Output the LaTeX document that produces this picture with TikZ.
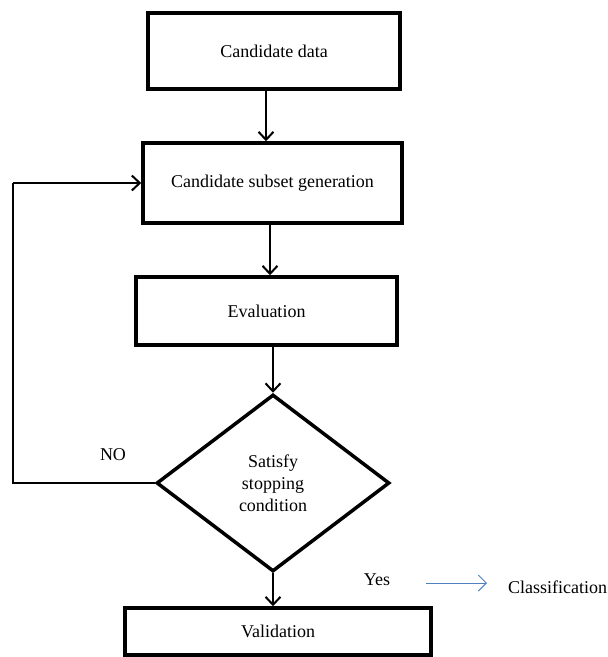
\documentclass[tikz,border=0pt]{standalone}
\usepackage{fontspec}
\setmainfont{Liberation Serif}
\usepackage{tikz}
\usetikzlibrary{shapes.geometric,arrows.meta}

\tikzset{
  block/.style={draw, line width=3.5pt, inner sep=0pt, font=\fontsize{18}{22}\selectfont},
  decision/.style={diamond, draw, line width=3.5pt, inner sep=0pt, align=center,
    minimum width=233pt, minimum height=177pt, font=\fontsize{18}{22}\selectfont},
  txt/.style={inner sep=0pt, font=\fontsize{18}{22}\selectfont},
  edgeline/.style={-{Straight Barb[length=8pt,width=15pt]}, line width=2pt},
  flow/.style={-{Straight Barb[length=8pt,width=16pt]}, line width=1pt,
    draw={rgb,255:red,79;green,129;blue,189}}
}

\begin{document}
\begin{tikzpicture}[x=1pt,y=-1pt]
      \useasboundingbox (0,0) rectangle (608,657);
      % Nodes
      % boxes and decision
      \node[block, minimum width=252pt, minimum height=76pt, xshift=274pt, yshift=-51pt] (Data) {Candidate data};
      \node[block, minimum width=259pt, minimum height=80pt, xshift=272.5pt, yshift=-183pt] (Gen) {Candidate subset generation};
      \node[block, minimum width=261pt, minimum height=68pt, xshift=266.5pt, yshift=-311pt] (Eval) {Evaluation};
      \node[decision, xshift=273pt, yshift=-483pt] (Stop) {Satisfy\\stopping\\condition};
      \node[block, minimum width=306pt, minimum height=47pt, xshift=278pt, yshift=-631.5pt] (Valid) {Validation};
      % labels
      \node[txt, xshift=113pt, yshift=-455pt] (No) {NO};
      \node[txt, xshift=377pt, yshift=-580pt] (Yes) {Yes};
      \node[txt, anchor=west, xshift=508pt, yshift=-587pt] (Cls) {Classification};
      \coordinate (Back) at (13,183);
      % edges
      \draw[edgeline] ([xshift=-8pt]Data.south) -- ([xshift=-8pt]Data.south |- Gen.north);
      \draw[edgeline] ([xshift=-2.5pt]Gen.south) -- ([xshift=-2.5pt]Gen.south |- Eval.north);
      \draw[edgeline] (Eval.south -| Stop.north) -- (Stop.north);
      \draw[edgeline] (Stop.south) -- (Stop.south |- Valid.north);
      \draw[line width=1.5pt] (Stop.west) -| (Back);
      \draw[edgeline] (Back) -- (Gen.west);
      \draw[flow] ([xshift=36pt,yshift=-3pt]Yes.east) -- ([xshift=-21pt,yshift=4pt]Cls.west);

    \end{tikzpicture}
\end{document}
